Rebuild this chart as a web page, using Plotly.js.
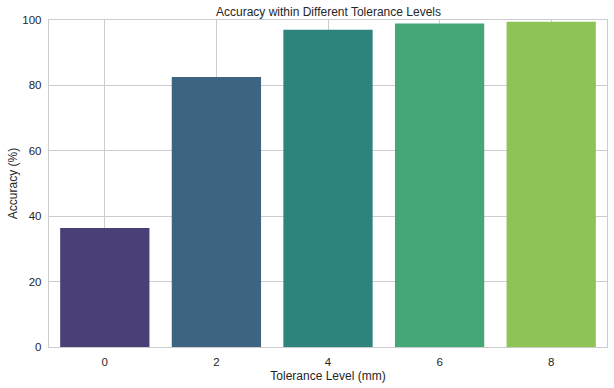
<!DOCTYPE html>
<html>
<head>
<meta charset="utf-8">
<script src="https://cdn.plot.ly/plotly-3.0.1.min.js"></script>
<style>html,body{margin:0;padding:0;background:#fff;}#chart{width:614px;height:388px;}</style>
</head>
<body>
<div id="chart"></div>
<script>
const toleranceLevels = ["0", "2", "4", "6", "8"];
const accuracyValues = [36.4, 82.6, 97.0, 98.9, 99.5];
const barColors = ["#4b3f77", "#3d6581", "#2e837c", "#45a778", "#8dc455"];

const font = "Liberation Sans, Arial, sans-serif";
const txt = "#262626";

Plotly.newPlot("chart", [{
  type: "bar",
  x: toleranceLevels,
  y: accuracyValues,
  marker: {color: barColors, line: {width: 0}},
  width: 0.8,
  hoverinfo: "x+y"
}], {
  width: 614, height: 388,
  margin: {l: 49, r: 7, t: 20, b: 41},
  paper_bgcolor: "#fff", plot_bgcolor: "#fff",
  font: {family: font, color: txt, size: 11},
  title: {text: "Accuracy within Different Tolerance Levels", font: {family: font, size: 12, color: txt}, x: 0.535, xanchor: "center", y: 0.969, yanchor: "middle"},
  xaxis: {
    type: "category",
    range: [-0.5, 4.5],
    title: {text: "Tolerance Level (mm)", font: {family: font, size: 12, color: txt}, standoff: 4},
    showgrid: true, gridcolor: "#cccccc", gridwidth: 1,
    showline: true, linecolor: "#cccccc", linewidth: 1.2, mirror: true,
    ticks: "", ticklen: 0, ticklabelstandoff: 4,
    tickfont: {family: font, size: 11.5, color: txt},
    zeroline: false
  },
  yaxis: {
    range: [0, 100],
    tickvals: [0, 20, 40, 60, 80, 100],
    title: {text: "Accuracy (%)", font: {family: font, size: 12, color: txt}, standoff: 2},
    showgrid: true, gridcolor: "#cccccc", gridwidth: 1,
    showline: true, linecolor: "#cccccc", linewidth: 1.2, mirror: true,
    ticks: "", ticklen: 0, ticklabelstandoff: 4,
    tickfont: {family: font, size: 11.5, color: txt},
    zeroline: false
  },
  showlegend: false
}, {displayModeBar: false, staticPlot: true});
</script>
</body>
</html>
